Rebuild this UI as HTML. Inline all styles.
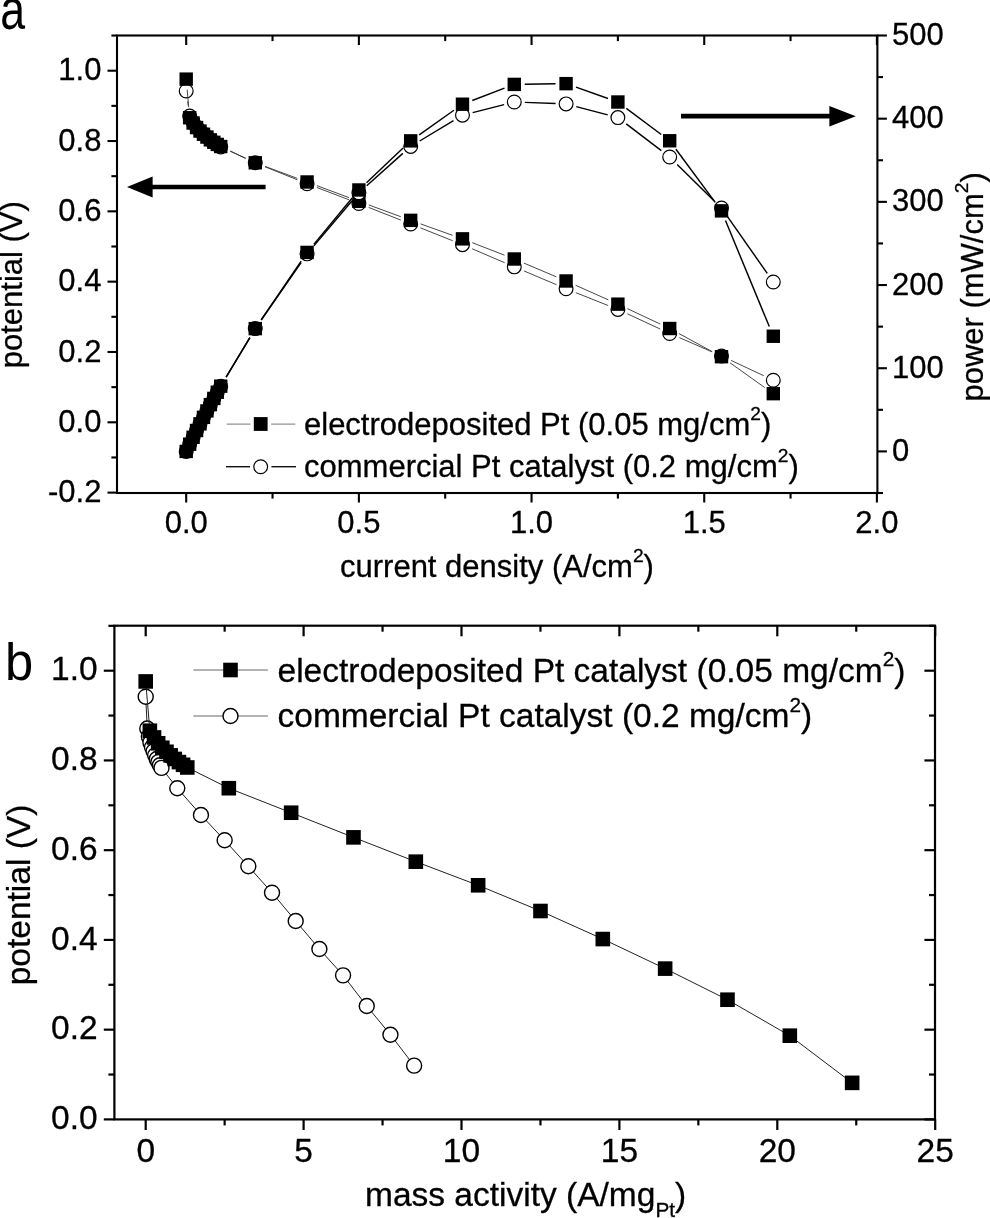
<!DOCTYPE html>
<html lang="en"><head><meta charset="utf-8"><title>Polarization curves</title>
<style>html,body{margin:0;padding:0;background:#fff}svg{display:block}text{white-space:pre}</style></head>
<body><svg width="990" height="1218" viewBox="0 0 990 1218">
<rect width="990" height="1218" fill="#fff"/>
<line x1="187.64" y1="101.46" x2="188.21" y2="105.59" stroke="#333" stroke-width="0.9" stroke-linecap="butt"/>
<line x1="230.27" y1="151.27" x2="245.73" y2="158.39" stroke="#333" stroke-width="0.9" stroke-linecap="butt"/>
<line x1="265.00" y1="166.72" x2="297.34" y2="179.80" stroke="#333" stroke-width="0.9" stroke-linecap="butt"/>
<line x1="316.88" y1="187.49" x2="349.07" y2="199.82" stroke="#333" stroke-width="0.9" stroke-linecap="butt"/>
<line x1="368.64" y1="207.42" x2="400.91" y2="220.12" stroke="#333" stroke-width="0.9" stroke-linecap="butt"/>
<line x1="420.43" y1="227.86" x2="452.73" y2="240.75" stroke="#333" stroke-width="0.9" stroke-linecap="butt"/>
<line x1="472.13" y1="248.78" x2="504.63" y2="262.70" stroke="#333" stroke-width="0.9" stroke-linecap="butt"/>
<line x1="523.95" y1="270.93" x2="556.42" y2="284.68" stroke="#333" stroke-width="0.9" stroke-linecap="butt"/>
<line x1="575.84" y1="292.66" x2="608.13" y2="305.53" stroke="#333" stroke-width="0.9" stroke-linecap="butt"/>
<line x1="627.41" y1="313.83" x2="660.16" y2="329.01" stroke="#333" stroke-width="0.9" stroke-linecap="butt"/>
<line x1="679.32" y1="337.61" x2="711.86" y2="351.75" stroke="#333" stroke-width="0.9" stroke-linecap="butt"/>
<line x1="731.00" y1="360.38" x2="763.79" y2="375.73" stroke="#333" stroke-width="0.9" stroke-linecap="butt"/>
<circle cx="186.20" cy="91.06" r="6.9" fill="#fff" stroke="#000" stroke-width="1.2"/>
<circle cx="189.65" cy="115.99" r="6.9" fill="#fff" stroke="#000" stroke-width="1.2"/>
<circle cx="193.11" cy="122.30" r="6.9" fill="#fff" stroke="#000" stroke-width="1.2"/>
<circle cx="196.56" cy="126.87" r="6.9" fill="#fff" stroke="#000" stroke-width="1.2"/>
<circle cx="200.01" cy="130.73" r="6.9" fill="#fff" stroke="#000" stroke-width="1.2"/>
<circle cx="203.47" cy="133.89" r="6.9" fill="#fff" stroke="#000" stroke-width="1.2"/>
<circle cx="206.92" cy="137.05" r="6.9" fill="#fff" stroke="#000" stroke-width="1.2"/>
<circle cx="210.37" cy="139.86" r="6.9" fill="#fff" stroke="#000" stroke-width="1.2"/>
<circle cx="213.83" cy="142.31" r="6.9" fill="#fff" stroke="#000" stroke-width="1.2"/>
<circle cx="217.28" cy="144.77" r="6.9" fill="#fff" stroke="#000" stroke-width="1.2"/>
<circle cx="220.73" cy="146.88" r="6.9" fill="#fff" stroke="#000" stroke-width="1.2"/>
<circle cx="255.27" cy="162.78" r="6.9" fill="#fff" stroke="#000" stroke-width="1.2"/>
<circle cx="307.07" cy="183.74" r="6.9" fill="#fff" stroke="#000" stroke-width="1.2"/>
<circle cx="358.88" cy="203.57" r="6.9" fill="#fff" stroke="#000" stroke-width="1.2"/>
<circle cx="410.68" cy="223.97" r="6.9" fill="#fff" stroke="#000" stroke-width="1.2"/>
<circle cx="462.48" cy="244.65" r="6.9" fill="#fff" stroke="#000" stroke-width="1.2"/>
<circle cx="514.28" cy="266.83" r="6.9" fill="#fff" stroke="#000" stroke-width="1.2"/>
<circle cx="566.09" cy="288.77" r="6.9" fill="#fff" stroke="#000" stroke-width="1.2"/>
<circle cx="617.89" cy="309.42" r="6.9" fill="#fff" stroke="#000" stroke-width="1.2"/>
<circle cx="669.69" cy="333.43" r="6.9" fill="#fff" stroke="#000" stroke-width="1.2"/>
<circle cx="721.49" cy="355.93" r="6.9" fill="#fff" stroke="#000" stroke-width="1.2"/>
<circle cx="773.30" cy="380.19" r="6.9" fill="#fff" stroke="#000" stroke-width="1.2"/>
<line x1="187.14" y1="89.58" x2="188.72" y2="107.28" stroke="#333" stroke-width="0.9" stroke-linecap="butt"/>
<line x1="230.24" y1="151.00" x2="245.77" y2="158.31" stroke="#333" stroke-width="0.9" stroke-linecap="butt"/>
<line x1="265.12" y1="166.43" x2="297.23" y2="178.33" stroke="#333" stroke-width="0.9" stroke-linecap="butt"/>
<line x1="316.91" y1="185.65" x2="349.04" y2="197.62" stroke="#333" stroke-width="0.9" stroke-linecap="butt"/>
<line x1="368.73" y1="204.92" x2="400.82" y2="216.73" stroke="#333" stroke-width="0.9" stroke-linecap="butt"/>
<line x1="420.57" y1="223.88" x2="452.59" y2="235.32" stroke="#333" stroke-width="0.9" stroke-linecap="butt"/>
<line x1="472.27" y1="242.66" x2="504.50" y2="255.20" stroke="#333" stroke-width="0.9" stroke-linecap="butt"/>
<line x1="523.95" y1="263.10" x2="556.42" y2="276.88" stroke="#333" stroke-width="0.9" stroke-linecap="butt"/>
<line x1="575.67" y1="285.27" x2="608.30" y2="299.86" stroke="#333" stroke-width="0.9" stroke-linecap="butt"/>
<line x1="627.39" y1="308.62" x2="660.19" y2="324.04" stroke="#333" stroke-width="0.9" stroke-linecap="butt"/>
<line x1="678.91" y1="333.53" x2="712.27" y2="351.68" stroke="#333" stroke-width="0.9" stroke-linecap="butt"/>
<line x1="730.04" y1="362.80" x2="764.75" y2="387.57" stroke="#333" stroke-width="0.9" stroke-linecap="butt"/>
<rect x="179.50" y="72.43" width="13.4" height="13.4" fill="#000"/>
<rect x="182.95" y="111.04" width="13.4" height="13.4" fill="#000"/>
<rect x="186.41" y="116.31" width="13.4" height="13.4" fill="#000"/>
<rect x="189.86" y="120.87" width="13.4" height="13.4" fill="#000"/>
<rect x="193.31" y="124.38" width="13.4" height="13.4" fill="#000"/>
<rect x="196.77" y="127.54" width="13.4" height="13.4" fill="#000"/>
<rect x="200.22" y="130.35" width="13.4" height="13.4" fill="#000"/>
<rect x="203.67" y="133.16" width="13.4" height="13.4" fill="#000"/>
<rect x="207.13" y="135.61" width="13.4" height="13.4" fill="#000"/>
<rect x="210.58" y="137.72" width="13.4" height="13.4" fill="#000"/>
<rect x="214.03" y="139.83" width="13.4" height="13.4" fill="#000"/>
<rect x="248.57" y="156.08" width="13.4" height="13.4" fill="#000"/>
<rect x="300.37" y="175.28" width="13.4" height="13.4" fill="#000"/>
<rect x="352.18" y="194.59" width="13.4" height="13.4" fill="#000"/>
<rect x="403.98" y="213.65" width="13.4" height="13.4" fill="#000"/>
<rect x="455.78" y="232.15" width="13.4" height="13.4" fill="#000"/>
<rect x="507.58" y="252.30" width="13.4" height="13.4" fill="#000"/>
<rect x="559.38" y="274.28" width="13.4" height="13.4" fill="#000"/>
<rect x="611.19" y="297.45" width="13.4" height="13.4" fill="#000"/>
<rect x="662.99" y="321.81" width="13.4" height="13.4" fill="#000"/>
<rect x="714.79" y="350.00" width="13.4" height="13.4" fill="#000"/>
<rect x="766.60" y="386.97" width="13.4" height="13.4" fill="#000"/>
<line x1="226.13" y1="377.24" x2="249.87" y2="337.62" stroke="#000" stroke-width="1.45" stroke-linecap="butt"/>
<line x1="261.25" y1="319.98" x2="301.09" y2="262.50" stroke="#000" stroke-width="1.45" stroke-linecap="butt"/>
<line x1="313.86" y1="245.86" x2="352.09" y2="200.69" stroke="#000" stroke-width="1.45" stroke-linecap="butt"/>
<line x1="366.71" y1="185.68" x2="402.85" y2="153.41" stroke="#000" stroke-width="1.45" stroke-linecap="butt"/>
<line x1="419.67" y1="141.00" x2="453.49" y2="120.60" stroke="#000" stroke-width="1.45" stroke-linecap="butt"/>
<line x1="472.66" y1="112.58" x2="504.11" y2="104.58" stroke="#000" stroke-width="1.45" stroke-linecap="butt"/>
<line x1="524.78" y1="102.38" x2="555.59" y2="103.53" stroke="#000" stroke-width="1.45" stroke-linecap="butt"/>
<line x1="576.24" y1="106.60" x2="607.73" y2="114.90" stroke="#000" stroke-width="1.45" stroke-linecap="butt"/>
<line x1="626.24" y1="123.94" x2="661.34" y2="150.69" stroke="#000" stroke-width="1.45" stroke-linecap="butt"/>
<line x1="677.17" y1="164.41" x2="714.01" y2="200.66" stroke="#000" stroke-width="1.45" stroke-linecap="butt"/>
<line x1="727.51" y1="216.63" x2="767.27" y2="273.43" stroke="#000" stroke-width="1.45" stroke-linecap="butt"/>
<circle cx="186.20" cy="451.41" r="6.9" fill="#fff" stroke="#000" stroke-width="1.2"/>
<circle cx="189.65" cy="444.16" r="6.9" fill="#fff" stroke="#000" stroke-width="1.2"/>
<circle cx="193.11" cy="437.21" r="6.9" fill="#fff" stroke="#000" stroke-width="1.2"/>
<circle cx="196.56" cy="430.44" r="6.9" fill="#fff" stroke="#000" stroke-width="1.2"/>
<circle cx="200.01" cy="423.82" r="6.9" fill="#fff" stroke="#000" stroke-width="1.2"/>
<circle cx="203.47" cy="417.29" r="6.9" fill="#fff" stroke="#000" stroke-width="1.2"/>
<circle cx="206.92" cy="410.92" r="6.9" fill="#fff" stroke="#000" stroke-width="1.2"/>
<circle cx="210.37" cy="404.63" r="6.9" fill="#fff" stroke="#000" stroke-width="1.2"/>
<circle cx="213.83" cy="398.42" r="6.9" fill="#fff" stroke="#000" stroke-width="1.2"/>
<circle cx="217.28" cy="392.32" r="6.9" fill="#fff" stroke="#000" stroke-width="1.2"/>
<circle cx="220.73" cy="386.25" r="6.9" fill="#fff" stroke="#000" stroke-width="1.2"/>
<circle cx="255.27" cy="328.61" r="6.9" fill="#fff" stroke="#000" stroke-width="1.2"/>
<circle cx="307.07" cy="253.87" r="6.9" fill="#fff" stroke="#000" stroke-width="1.2"/>
<circle cx="358.88" cy="192.68" r="6.9" fill="#fff" stroke="#000" stroke-width="1.2"/>
<circle cx="410.68" cy="146.42" r="6.9" fill="#fff" stroke="#000" stroke-width="1.2"/>
<circle cx="462.48" cy="115.17" r="6.9" fill="#fff" stroke="#000" stroke-width="1.2"/>
<circle cx="514.28" cy="101.99" r="6.9" fill="#fff" stroke="#000" stroke-width="1.2"/>
<circle cx="566.09" cy="103.92" r="6.9" fill="#fff" stroke="#000" stroke-width="1.2"/>
<circle cx="617.89" cy="117.58" r="6.9" fill="#fff" stroke="#000" stroke-width="1.2"/>
<circle cx="669.69" cy="157.05" r="6.9" fill="#fff" stroke="#000" stroke-width="1.2"/>
<circle cx="721.49" cy="208.03" r="6.9" fill="#fff" stroke="#000" stroke-width="1.2"/>
<circle cx="773.30" cy="282.04" r="6.9" fill="#fff" stroke="#000" stroke-width="1.2"/>
<line x1="226.14" y1="377.16" x2="249.87" y2="337.62" stroke="#000" stroke-width="1.45" stroke-linecap="butt"/>
<line x1="261.17" y1="319.93" x2="301.17" y2="261.10" stroke="#000" stroke-width="1.45" stroke-linecap="butt"/>
<line x1="313.78" y1="244.34" x2="352.17" y2="198.06" stroke="#000" stroke-width="1.45" stroke-linecap="butt"/>
<line x1="366.49" y1="182.75" x2="403.06" y2="148.08" stroke="#000" stroke-width="1.45" stroke-linecap="butt"/>
<line x1="419.25" y1="134.80" x2="453.91" y2="110.27" stroke="#000" stroke-width="1.45" stroke-linecap="butt"/>
<line x1="472.29" y1="100.46" x2="504.48" y2="88.15" stroke="#000" stroke-width="1.45" stroke-linecap="butt"/>
<line x1="524.78" y1="84.24" x2="555.59" y2="83.79" stroke="#000" stroke-width="1.45" stroke-linecap="butt"/>
<line x1="575.98" y1="87.15" x2="607.99" y2="98.50" stroke="#000" stroke-width="1.45" stroke-linecap="butt"/>
<line x1="626.29" y1="108.30" x2="661.28" y2="134.48" stroke="#000" stroke-width="1.45" stroke-linecap="butt"/>
<line x1="675.93" y1="149.22" x2="715.25" y2="202.42" stroke="#000" stroke-width="1.45" stroke-linecap="butt"/>
<line x1="725.50" y1="220.56" x2="769.29" y2="326.55" stroke="#000" stroke-width="1.45" stroke-linecap="butt"/>
<rect x="179.50" y="444.71" width="13.4" height="13.4" fill="#000"/>
<rect x="182.95" y="437.50" width="13.4" height="13.4" fill="#000"/>
<rect x="186.41" y="430.55" width="13.4" height="13.4" fill="#000"/>
<rect x="189.86" y="423.79" width="13.4" height="13.4" fill="#000"/>
<rect x="193.31" y="417.15" width="13.4" height="13.4" fill="#000"/>
<rect x="196.77" y="410.63" width="13.4" height="13.4" fill="#000"/>
<rect x="200.22" y="404.22" width="13.4" height="13.4" fill="#000"/>
<rect x="203.67" y="397.93" width="13.4" height="13.4" fill="#000"/>
<rect x="207.13" y="391.72" width="13.4" height="13.4" fill="#000"/>
<rect x="210.58" y="385.54" width="13.4" height="13.4" fill="#000"/>
<rect x="214.03" y="379.47" width="13.4" height="13.4" fill="#000"/>
<rect x="248.57" y="321.91" width="13.4" height="13.4" fill="#000"/>
<rect x="300.37" y="245.72" width="13.4" height="13.4" fill="#000"/>
<rect x="352.18" y="183.28" width="13.4" height="13.4" fill="#000"/>
<rect x="403.98" y="134.16" width="13.4" height="13.4" fill="#000"/>
<rect x="455.78" y="97.51" width="13.4" height="13.4" fill="#000"/>
<rect x="507.58" y="77.70" width="13.4" height="13.4" fill="#000"/>
<rect x="559.38" y="76.94" width="13.4" height="13.4" fill="#000"/>
<rect x="611.19" y="95.31" width="13.4" height="13.4" fill="#000"/>
<rect x="662.99" y="134.07" width="13.4" height="13.4" fill="#000"/>
<rect x="714.79" y="204.16" width="13.4" height="13.4" fill="#000"/>
<rect x="766.60" y="329.55" width="13.4" height="13.4" fill="#000"/>
<rect x="117.0" y="35.5" width="760.4" height="457.5" fill="none" stroke="#000" stroke-width="2.1"/>
<line x1="107.50" y1="492.62" x2="117.00" y2="492.62" stroke="#000" stroke-width="2.1" stroke-linecap="butt"/>
<text x="101.40" y="502.22" font-size="31" text-anchor="end" font-family="Liberation Sans, Arial, Helvetica, sans-serif" fill="#000" stroke="#000" stroke-width="0.3" >-0.2</text>
<line x1="111.40" y1="457.46" x2="117.00" y2="457.46" stroke="#000" stroke-width="2.1" stroke-linecap="butt"/>
<line x1="107.50" y1="422.30" x2="117.00" y2="422.30" stroke="#000" stroke-width="2.1" stroke-linecap="butt"/>
<text x="101.40" y="431.90" font-size="31" text-anchor="end" font-family="Liberation Sans, Arial, Helvetica, sans-serif" fill="#000" stroke="#000" stroke-width="0.3" >0.0</text>
<line x1="111.40" y1="387.14" x2="117.00" y2="387.14" stroke="#000" stroke-width="2.1" stroke-linecap="butt"/>
<line x1="107.50" y1="351.98" x2="117.00" y2="351.98" stroke="#000" stroke-width="2.1" stroke-linecap="butt"/>
<text x="101.40" y="361.58" font-size="31" text-anchor="end" font-family="Liberation Sans, Arial, Helvetica, sans-serif" fill="#000" stroke="#000" stroke-width="0.3" >0.2</text>
<line x1="111.40" y1="316.82" x2="117.00" y2="316.82" stroke="#000" stroke-width="2.1" stroke-linecap="butt"/>
<line x1="107.50" y1="281.66" x2="117.00" y2="281.66" stroke="#000" stroke-width="2.1" stroke-linecap="butt"/>
<text x="101.40" y="291.26" font-size="31" text-anchor="end" font-family="Liberation Sans, Arial, Helvetica, sans-serif" fill="#000" stroke="#000" stroke-width="0.3" >0.4</text>
<line x1="111.40" y1="246.50" x2="117.00" y2="246.50" stroke="#000" stroke-width="2.1" stroke-linecap="butt"/>
<line x1="107.50" y1="211.34" x2="117.00" y2="211.34" stroke="#000" stroke-width="2.1" stroke-linecap="butt"/>
<text x="101.40" y="220.94" font-size="31" text-anchor="end" font-family="Liberation Sans, Arial, Helvetica, sans-serif" fill="#000" stroke="#000" stroke-width="0.3" >0.6</text>
<line x1="111.40" y1="176.18" x2="117.00" y2="176.18" stroke="#000" stroke-width="2.1" stroke-linecap="butt"/>
<line x1="107.50" y1="141.02" x2="117.00" y2="141.02" stroke="#000" stroke-width="2.1" stroke-linecap="butt"/>
<text x="101.40" y="150.62" font-size="31" text-anchor="end" font-family="Liberation Sans, Arial, Helvetica, sans-serif" fill="#000" stroke="#000" stroke-width="0.3" >0.8</text>
<line x1="111.40" y1="105.86" x2="117.00" y2="105.86" stroke="#000" stroke-width="2.1" stroke-linecap="butt"/>
<line x1="107.50" y1="70.70" x2="117.00" y2="70.70" stroke="#000" stroke-width="2.1" stroke-linecap="butt"/>
<text x="101.40" y="80.30" font-size="31" text-anchor="end" font-family="Liberation Sans, Arial, Helvetica, sans-serif" fill="#000" stroke="#000" stroke-width="0.3" >1.0</text>
<line x1="111.40" y1="35.54" x2="117.00" y2="35.54" stroke="#000" stroke-width="2.1" stroke-linecap="butt"/>
<line x1="877.40" y1="493.00" x2="883.00" y2="493.00" stroke="#000" stroke-width="2.1" stroke-linecap="butt"/>
<line x1="877.40" y1="451.41" x2="886.90" y2="451.41" stroke="#000" stroke-width="2.1" stroke-linecap="butt"/>
<text x="892.00" y="461.01" font-size="31" text-anchor="start" font-family="Liberation Sans, Arial, Helvetica, sans-serif" fill="#000" stroke="#000" stroke-width="0.3" >0</text>
<line x1="877.40" y1="409.82" x2="883.00" y2="409.82" stroke="#000" stroke-width="2.1" stroke-linecap="butt"/>
<line x1="877.40" y1="368.23" x2="886.90" y2="368.23" stroke="#000" stroke-width="2.1" stroke-linecap="butt"/>
<text x="892.00" y="377.83" font-size="31" text-anchor="start" font-family="Liberation Sans, Arial, Helvetica, sans-serif" fill="#000" stroke="#000" stroke-width="0.3" >100</text>
<line x1="877.40" y1="326.64" x2="883.00" y2="326.64" stroke="#000" stroke-width="2.1" stroke-linecap="butt"/>
<line x1="877.40" y1="285.05" x2="886.90" y2="285.05" stroke="#000" stroke-width="2.1" stroke-linecap="butt"/>
<text x="892.00" y="294.65" font-size="31" text-anchor="start" font-family="Liberation Sans, Arial, Helvetica, sans-serif" fill="#000" stroke="#000" stroke-width="0.3" >200</text>
<line x1="877.40" y1="243.45" x2="883.00" y2="243.45" stroke="#000" stroke-width="2.1" stroke-linecap="butt"/>
<line x1="877.40" y1="201.86" x2="886.90" y2="201.86" stroke="#000" stroke-width="2.1" stroke-linecap="butt"/>
<text x="892.00" y="211.46" font-size="31" text-anchor="start" font-family="Liberation Sans, Arial, Helvetica, sans-serif" fill="#000" stroke="#000" stroke-width="0.3" >300</text>
<line x1="877.40" y1="160.27" x2="883.00" y2="160.27" stroke="#000" stroke-width="2.1" stroke-linecap="butt"/>
<line x1="877.40" y1="118.68" x2="886.90" y2="118.68" stroke="#000" stroke-width="2.1" stroke-linecap="butt"/>
<text x="892.00" y="128.28" font-size="31" text-anchor="start" font-family="Liberation Sans, Arial, Helvetica, sans-serif" fill="#000" stroke="#000" stroke-width="0.3" >400</text>
<line x1="877.40" y1="77.09" x2="883.00" y2="77.09" stroke="#000" stroke-width="2.1" stroke-linecap="butt"/>
<line x1="877.40" y1="35.50" x2="886.90" y2="35.50" stroke="#000" stroke-width="2.1" stroke-linecap="butt"/>
<text x="892.00" y="45.10" font-size="31" text-anchor="start" font-family="Liberation Sans, Arial, Helvetica, sans-serif" fill="#000" stroke="#000" stroke-width="0.3" >500</text>
<line x1="186.20" y1="493.00" x2="186.20" y2="502.50" stroke="#000" stroke-width="2.1" stroke-linecap="butt"/>
<line x1="186.20" y1="35.50" x2="186.20" y2="45.00" stroke="#000" stroke-width="2.1" stroke-linecap="butt"/>
<text x="186.20" y="532.60" font-size="31" text-anchor="middle" font-family="Liberation Sans, Arial, Helvetica, sans-serif" fill="#000" stroke="#000" stroke-width="0.3" >0.0</text>
<line x1="272.54" y1="493.00" x2="272.54" y2="498.60" stroke="#000" stroke-width="2.1" stroke-linecap="butt"/>
<line x1="272.54" y1="35.50" x2="272.54" y2="41.10" stroke="#000" stroke-width="2.1" stroke-linecap="butt"/>
<line x1="358.88" y1="493.00" x2="358.88" y2="502.50" stroke="#000" stroke-width="2.1" stroke-linecap="butt"/>
<line x1="358.88" y1="35.50" x2="358.88" y2="45.00" stroke="#000" stroke-width="2.1" stroke-linecap="butt"/>
<text x="358.88" y="532.60" font-size="31" text-anchor="middle" font-family="Liberation Sans, Arial, Helvetica, sans-serif" fill="#000" stroke="#000" stroke-width="0.3" >0.5</text>
<line x1="445.21" y1="493.00" x2="445.21" y2="498.60" stroke="#000" stroke-width="2.1" stroke-linecap="butt"/>
<line x1="445.21" y1="35.50" x2="445.21" y2="41.10" stroke="#000" stroke-width="2.1" stroke-linecap="butt"/>
<line x1="531.55" y1="493.00" x2="531.55" y2="502.50" stroke="#000" stroke-width="2.1" stroke-linecap="butt"/>
<line x1="531.55" y1="35.50" x2="531.55" y2="45.00" stroke="#000" stroke-width="2.1" stroke-linecap="butt"/>
<text x="531.55" y="532.60" font-size="31" text-anchor="middle" font-family="Liberation Sans, Arial, Helvetica, sans-serif" fill="#000" stroke="#000" stroke-width="0.3" >1.0</text>
<line x1="617.89" y1="493.00" x2="617.89" y2="498.60" stroke="#000" stroke-width="2.1" stroke-linecap="butt"/>
<line x1="617.89" y1="35.50" x2="617.89" y2="41.10" stroke="#000" stroke-width="2.1" stroke-linecap="butt"/>
<line x1="704.23" y1="493.00" x2="704.23" y2="502.50" stroke="#000" stroke-width="2.1" stroke-linecap="butt"/>
<line x1="704.23" y1="35.50" x2="704.23" y2="45.00" stroke="#000" stroke-width="2.1" stroke-linecap="butt"/>
<text x="704.23" y="532.60" font-size="31" text-anchor="middle" font-family="Liberation Sans, Arial, Helvetica, sans-serif" fill="#000" stroke="#000" stroke-width="0.3" >1.5</text>
<line x1="790.56" y1="493.00" x2="790.56" y2="498.60" stroke="#000" stroke-width="2.1" stroke-linecap="butt"/>
<line x1="790.56" y1="35.50" x2="790.56" y2="41.10" stroke="#000" stroke-width="2.1" stroke-linecap="butt"/>
<line x1="876.90" y1="493.00" x2="876.90" y2="502.50" stroke="#000" stroke-width="2.1" stroke-linecap="butt"/>
<line x1="876.90" y1="35.50" x2="876.90" y2="45.00" stroke="#000" stroke-width="2.1" stroke-linecap="butt"/>
<text x="876.90" y="532.60" font-size="31" text-anchor="middle" font-family="Liberation Sans, Arial, Helvetica, sans-serif" fill="#000" stroke="#000" stroke-width="0.3" >2.0</text>
<text x="340.00" y="577.40" font-size="31" text-anchor="start" font-family="Liberation Sans, Arial, Helvetica, sans-serif" fill="#000" stroke="#000" stroke-width="0.3" >current density (A/cm<tspan font-size="19.22" dy="-15.035">2</tspan><tspan dy="15.035">)</tspan></text>
<g transform="translate(22.4,368.3) rotate(-90)">
<text x="0.00" y="0.00" font-size="31" text-anchor="start" font-family="Liberation Sans, Arial, Helvetica, sans-serif" fill="#000" stroke="#000" stroke-width="0.3" >potential (V)</text>
</g>
<g transform="translate(983.2,401.6) rotate(-90)">
<text x="0.00" y="0.00" font-size="31" text-anchor="start" font-family="Liberation Sans, Arial, Helvetica, sans-serif" fill="#000" stroke="#000" stroke-width="0.3" >power (mW/cm<tspan font-size="19.22" dy="-15.035">2</tspan><tspan dy="15.035">)</tspan></text>
</g>
<line x1="226.70" y1="424.10" x2="250.50" y2="424.10" stroke="#777" stroke-width="1.0" stroke-linecap="butt"/>
<line x1="271.20" y1="424.10" x2="295.30" y2="424.10" stroke="#777" stroke-width="1.0" stroke-linecap="butt"/>
<rect x="253.80" y="417.10" width="13.8" height="13.8" fill="#000"/>
<line x1="226.00" y1="466.70" x2="250.00" y2="466.70" stroke="#111" stroke-width="1.4" stroke-linecap="butt"/>
<line x1="271.40" y1="466.70" x2="296.00" y2="466.70" stroke="#111" stroke-width="1.4" stroke-linecap="butt"/>
<circle cx="260.70" cy="466.70" r="6.9" fill="#fff" stroke="#000" stroke-width="1.2"/>
<text x="304.00" y="435.20" font-size="31" text-anchor="start" font-family="Liberation Sans, Arial, Helvetica, sans-serif" fill="#000" stroke="#000" stroke-width="0.3" >electrodeposited Pt (0.05 mg/cm<tspan font-size="19.22" dy="-15.035">2</tspan><tspan dy="15.035">)</tspan></text>
<text x="304.00" y="477.00" font-size="31" text-anchor="start" font-family="Liberation Sans, Arial, Helvetica, sans-serif" fill="#000" stroke="#000" stroke-width="0.3" >commercial Pt catalyst (0.2 mg/cm<tspan font-size="19.22" dy="-15.035">2</tspan><tspan dy="15.035">)</tspan></text>
<line x1="152.00" y1="187.00" x2="265.60" y2="187.00" stroke="#000" stroke-width="4.7" stroke-linecap="butt"/>
<polygon points="127,187.0 152.6,176.6 152.6,197.4" fill="#000"/>
<line x1="681.00" y1="116.20" x2="831.00" y2="116.20" stroke="#000" stroke-width="4.7" stroke-linecap="butt"/>
<polygon points="855.8,116.2 829.4,105.9 829.4,126.5" fill="#000"/>
<text transform="translate(0.2,28.6) scale(0.82,1.07)" font-size="54.5" font-family="Liberation Sans, Arial, Helvetica, sans-serif" fill="#000">a</text>
<line x1="145.70" y1="696.68" x2="147.28" y2="728.49" stroke="#222" stroke-width="1.0" stroke-linecap="butt"/>
<line x1="147.28" y1="728.49" x2="148.86" y2="736.56" stroke="#222" stroke-width="1.0" stroke-linecap="butt"/>
<line x1="148.86" y1="736.56" x2="150.44" y2="742.38" stroke="#222" stroke-width="1.0" stroke-linecap="butt"/>
<line x1="150.44" y1="742.38" x2="152.02" y2="747.31" stroke="#222" stroke-width="1.0" stroke-linecap="butt"/>
<line x1="152.02" y1="747.31" x2="153.59" y2="751.34" stroke="#222" stroke-width="1.0" stroke-linecap="butt"/>
<line x1="153.59" y1="751.34" x2="155.17" y2="755.37" stroke="#222" stroke-width="1.0" stroke-linecap="butt"/>
<line x1="155.17" y1="755.37" x2="156.75" y2="758.96" stroke="#222" stroke-width="1.0" stroke-linecap="butt"/>
<line x1="156.75" y1="758.96" x2="158.33" y2="762.09" stroke="#222" stroke-width="1.0" stroke-linecap="butt"/>
<line x1="158.33" y1="762.09" x2="159.91" y2="765.23" stroke="#222" stroke-width="1.0" stroke-linecap="butt"/>
<line x1="159.91" y1="765.23" x2="161.49" y2="767.92" stroke="#222" stroke-width="1.0" stroke-linecap="butt"/>
<line x1="161.49" y1="767.92" x2="177.28" y2="788.21" stroke="#222" stroke-width="1.0" stroke-linecap="butt"/>
<line x1="177.28" y1="788.21" x2="200.96" y2="814.96" stroke="#222" stroke-width="1.0" stroke-linecap="butt"/>
<line x1="200.96" y1="814.96" x2="224.65" y2="840.27" stroke="#222" stroke-width="1.0" stroke-linecap="butt"/>
<line x1="224.65" y1="840.27" x2="248.33" y2="866.30" stroke="#222" stroke-width="1.0" stroke-linecap="butt"/>
<line x1="248.33" y1="866.30" x2="272.02" y2="892.68" stroke="#222" stroke-width="1.0" stroke-linecap="butt"/>
<line x1="272.02" y1="892.68" x2="295.70" y2="921.00" stroke="#222" stroke-width="1.0" stroke-linecap="butt"/>
<line x1="295.70" y1="921.00" x2="319.39" y2="949.00" stroke="#222" stroke-width="1.0" stroke-linecap="butt"/>
<line x1="319.39" y1="949.00" x2="343.07" y2="975.34" stroke="#222" stroke-width="1.0" stroke-linecap="butt"/>
<line x1="343.07" y1="975.34" x2="366.76" y2="1005.98" stroke="#222" stroke-width="1.0" stroke-linecap="butt"/>
<line x1="366.76" y1="1005.98" x2="390.44" y2="1034.70" stroke="#222" stroke-width="1.0" stroke-linecap="butt"/>
<line x1="390.44" y1="1034.70" x2="414.13" y2="1065.66" stroke="#222" stroke-width="1.0" stroke-linecap="butt"/>
<circle cx="145.70" cy="696.68" r="7.5" fill="#fff" stroke="#000" stroke-width="1.4"/>
<circle cx="147.28" cy="728.49" r="7.5" fill="#fff" stroke="#000" stroke-width="1.4"/>
<circle cx="148.86" cy="736.56" r="7.5" fill="#fff" stroke="#000" stroke-width="1.4"/>
<circle cx="150.44" cy="742.38" r="7.5" fill="#fff" stroke="#000" stroke-width="1.4"/>
<circle cx="152.02" cy="747.31" r="7.5" fill="#fff" stroke="#000" stroke-width="1.4"/>
<circle cx="153.59" cy="751.34" r="7.5" fill="#fff" stroke="#000" stroke-width="1.4"/>
<circle cx="155.17" cy="755.37" r="7.5" fill="#fff" stroke="#000" stroke-width="1.4"/>
<circle cx="156.75" cy="758.96" r="7.5" fill="#fff" stroke="#000" stroke-width="1.4"/>
<circle cx="158.33" cy="762.09" r="7.5" fill="#fff" stroke="#000" stroke-width="1.4"/>
<circle cx="159.91" cy="765.23" r="7.5" fill="#fff" stroke="#000" stroke-width="1.4"/>
<circle cx="161.49" cy="767.92" r="7.5" fill="#fff" stroke="#000" stroke-width="1.4"/>
<circle cx="177.28" cy="788.21" r="7.5" fill="#fff" stroke="#000" stroke-width="1.4"/>
<circle cx="200.96" cy="814.96" r="7.5" fill="#fff" stroke="#000" stroke-width="1.4"/>
<circle cx="224.65" cy="840.27" r="7.5" fill="#fff" stroke="#000" stroke-width="1.4"/>
<circle cx="248.33" cy="866.30" r="7.5" fill="#fff" stroke="#000" stroke-width="1.4"/>
<circle cx="272.02" cy="892.68" r="7.5" fill="#fff" stroke="#000" stroke-width="1.4"/>
<circle cx="295.70" cy="921.00" r="7.5" fill="#fff" stroke="#000" stroke-width="1.4"/>
<circle cx="319.39" cy="949.00" r="7.5" fill="#fff" stroke="#000" stroke-width="1.4"/>
<circle cx="343.07" cy="975.34" r="7.5" fill="#fff" stroke="#000" stroke-width="1.4"/>
<circle cx="366.76" cy="1005.98" r="7.5" fill="#fff" stroke="#000" stroke-width="1.4"/>
<circle cx="390.44" cy="1034.70" r="7.5" fill="#fff" stroke="#000" stroke-width="1.4"/>
<circle cx="414.13" cy="1065.66" r="7.5" fill="#fff" stroke="#000" stroke-width="1.4"/>
<line x1="145.70" y1="681.45" x2="149.86" y2="730.73" stroke="#222" stroke-width="1.0" stroke-linecap="butt"/>
<line x1="149.86" y1="730.73" x2="154.01" y2="737.45" stroke="#222" stroke-width="1.0" stroke-linecap="butt"/>
<line x1="154.01" y1="737.45" x2="158.17" y2="743.28" stroke="#222" stroke-width="1.0" stroke-linecap="butt"/>
<line x1="158.17" y1="743.28" x2="162.32" y2="747.76" stroke="#222" stroke-width="1.0" stroke-linecap="butt"/>
<line x1="162.32" y1="747.76" x2="166.48" y2="751.79" stroke="#222" stroke-width="1.0" stroke-linecap="butt"/>
<line x1="166.48" y1="751.79" x2="170.63" y2="755.37" stroke="#222" stroke-width="1.0" stroke-linecap="butt"/>
<line x1="170.63" y1="755.37" x2="174.79" y2="758.96" stroke="#222" stroke-width="1.0" stroke-linecap="butt"/>
<line x1="174.79" y1="758.96" x2="178.94" y2="762.09" stroke="#222" stroke-width="1.0" stroke-linecap="butt"/>
<line x1="178.94" y1="762.09" x2="183.10" y2="764.78" stroke="#222" stroke-width="1.0" stroke-linecap="butt"/>
<line x1="183.10" y1="764.78" x2="187.26" y2="767.47" stroke="#222" stroke-width="1.0" stroke-linecap="butt"/>
<line x1="187.26" y1="767.47" x2="228.81" y2="788.21" stroke="#222" stroke-width="1.0" stroke-linecap="butt"/>
<line x1="228.81" y1="788.21" x2="291.14" y2="812.72" stroke="#222" stroke-width="1.0" stroke-linecap="butt"/>
<line x1="291.14" y1="812.72" x2="353.48" y2="837.36" stroke="#222" stroke-width="1.0" stroke-linecap="butt"/>
<line x1="353.48" y1="837.36" x2="415.81" y2="861.68" stroke="#222" stroke-width="1.0" stroke-linecap="butt"/>
<line x1="415.81" y1="861.68" x2="478.14" y2="885.29" stroke="#222" stroke-width="1.0" stroke-linecap="butt"/>
<line x1="478.14" y1="885.29" x2="540.48" y2="911.01" stroke="#222" stroke-width="1.0" stroke-linecap="butt"/>
<line x1="540.48" y1="911.01" x2="602.81" y2="939.05" stroke="#222" stroke-width="1.0" stroke-linecap="butt"/>
<line x1="602.81" y1="939.05" x2="665.14" y2="968.62" stroke="#222" stroke-width="1.0" stroke-linecap="butt"/>
<line x1="665.14" y1="968.62" x2="727.48" y2="999.71" stroke="#222" stroke-width="1.0" stroke-linecap="butt"/>
<line x1="727.48" y1="999.71" x2="789.81" y2="1035.69" stroke="#222" stroke-width="1.0" stroke-linecap="butt"/>
<line x1="789.81" y1="1035.69" x2="852.14" y2="1082.86" stroke="#222" stroke-width="1.0" stroke-linecap="butt"/>
<rect x="138.40" y="674.15" width="14.6" height="14.6" fill="#000"/>
<rect x="142.56" y="723.43" width="14.6" height="14.6" fill="#000"/>
<rect x="146.71" y="730.15" width="14.6" height="14.6" fill="#000"/>
<rect x="150.87" y="735.98" width="14.6" height="14.6" fill="#000"/>
<rect x="155.02" y="740.46" width="14.6" height="14.6" fill="#000"/>
<rect x="159.18" y="744.49" width="14.6" height="14.6" fill="#000"/>
<rect x="163.33" y="748.07" width="14.6" height="14.6" fill="#000"/>
<rect x="167.49" y="751.66" width="14.6" height="14.6" fill="#000"/>
<rect x="171.64" y="754.79" width="14.6" height="14.6" fill="#000"/>
<rect x="175.80" y="757.48" width="14.6" height="14.6" fill="#000"/>
<rect x="179.96" y="760.17" width="14.6" height="14.6" fill="#000"/>
<rect x="221.51" y="780.91" width="14.6" height="14.6" fill="#000"/>
<rect x="283.84" y="805.42" width="14.6" height="14.6" fill="#000"/>
<rect x="346.18" y="830.06" width="14.6" height="14.6" fill="#000"/>
<rect x="408.51" y="854.38" width="14.6" height="14.6" fill="#000"/>
<rect x="470.84" y="877.99" width="14.6" height="14.6" fill="#000"/>
<rect x="533.18" y="903.71" width="14.6" height="14.6" fill="#000"/>
<rect x="595.51" y="931.75" width="14.6" height="14.6" fill="#000"/>
<rect x="657.84" y="961.32" width="14.6" height="14.6" fill="#000"/>
<rect x="720.18" y="992.41" width="14.6" height="14.6" fill="#000"/>
<rect x="782.51" y="1028.39" width="14.6" height="14.6" fill="#000"/>
<rect x="844.84" y="1075.56" width="14.6" height="14.6" fill="#000"/>
<rect x="114.4" y="625.7" width="820.6" height="493.70000000000005" fill="none" stroke="#000" stroke-width="2.2"/>
<line x1="103.80" y1="1119.40" x2="114.40" y2="1119.40" stroke="#000" stroke-width="2.2" stroke-linecap="butt"/>
<line x1="924.40" y1="1119.40" x2="935.00" y2="1119.40" stroke="#000" stroke-width="2.2" stroke-linecap="butt"/>
<text x="97.60" y="1129.00" font-size="33.5" text-anchor="end" font-family="Liberation Sans, Arial, Helvetica, sans-serif" fill="#000" stroke="#000" stroke-width="0.3" >0.0</text>
<line x1="108.40" y1="1074.53" x2="114.40" y2="1074.53" stroke="#000" stroke-width="2.2" stroke-linecap="butt"/>
<line x1="929.00" y1="1074.53" x2="935.00" y2="1074.53" stroke="#000" stroke-width="2.2" stroke-linecap="butt"/>
<line x1="103.80" y1="1029.66" x2="114.40" y2="1029.66" stroke="#000" stroke-width="2.2" stroke-linecap="butt"/>
<line x1="924.40" y1="1029.66" x2="935.00" y2="1029.66" stroke="#000" stroke-width="2.2" stroke-linecap="butt"/>
<text x="97.60" y="1039.26" font-size="33.5" text-anchor="end" font-family="Liberation Sans, Arial, Helvetica, sans-serif" fill="#000" stroke="#000" stroke-width="0.3" >0.2</text>
<line x1="108.40" y1="984.79" x2="114.40" y2="984.79" stroke="#000" stroke-width="2.2" stroke-linecap="butt"/>
<line x1="929.00" y1="984.79" x2="935.00" y2="984.79" stroke="#000" stroke-width="2.2" stroke-linecap="butt"/>
<line x1="103.80" y1="939.92" x2="114.40" y2="939.92" stroke="#000" stroke-width="2.2" stroke-linecap="butt"/>
<line x1="924.40" y1="939.92" x2="935.00" y2="939.92" stroke="#000" stroke-width="2.2" stroke-linecap="butt"/>
<text x="97.60" y="949.52" font-size="33.5" text-anchor="end" font-family="Liberation Sans, Arial, Helvetica, sans-serif" fill="#000" stroke="#000" stroke-width="0.3" >0.4</text>
<line x1="108.40" y1="895.05" x2="114.40" y2="895.05" stroke="#000" stroke-width="2.2" stroke-linecap="butt"/>
<line x1="929.00" y1="895.05" x2="935.00" y2="895.05" stroke="#000" stroke-width="2.2" stroke-linecap="butt"/>
<line x1="103.80" y1="850.18" x2="114.40" y2="850.18" stroke="#000" stroke-width="2.2" stroke-linecap="butt"/>
<line x1="924.40" y1="850.18" x2="935.00" y2="850.18" stroke="#000" stroke-width="2.2" stroke-linecap="butt"/>
<text x="97.60" y="859.78" font-size="33.5" text-anchor="end" font-family="Liberation Sans, Arial, Helvetica, sans-serif" fill="#000" stroke="#000" stroke-width="0.3" >0.6</text>
<line x1="108.40" y1="805.31" x2="114.40" y2="805.31" stroke="#000" stroke-width="2.2" stroke-linecap="butt"/>
<line x1="929.00" y1="805.31" x2="935.00" y2="805.31" stroke="#000" stroke-width="2.2" stroke-linecap="butt"/>
<line x1="103.80" y1="760.44" x2="114.40" y2="760.44" stroke="#000" stroke-width="2.2" stroke-linecap="butt"/>
<line x1="924.40" y1="760.44" x2="935.00" y2="760.44" stroke="#000" stroke-width="2.2" stroke-linecap="butt"/>
<text x="97.60" y="770.04" font-size="33.5" text-anchor="end" font-family="Liberation Sans, Arial, Helvetica, sans-serif" fill="#000" stroke="#000" stroke-width="0.3" >0.8</text>
<line x1="108.40" y1="715.57" x2="114.40" y2="715.57" stroke="#000" stroke-width="2.2" stroke-linecap="butt"/>
<line x1="929.00" y1="715.57" x2="935.00" y2="715.57" stroke="#000" stroke-width="2.2" stroke-linecap="butt"/>
<line x1="103.80" y1="670.70" x2="114.40" y2="670.70" stroke="#000" stroke-width="2.2" stroke-linecap="butt"/>
<line x1="924.40" y1="670.70" x2="935.00" y2="670.70" stroke="#000" stroke-width="2.2" stroke-linecap="butt"/>
<text x="97.60" y="680.30" font-size="33.5" text-anchor="end" font-family="Liberation Sans, Arial, Helvetica, sans-serif" fill="#000" stroke="#000" stroke-width="0.3" >1.0</text>
<line x1="108.40" y1="625.83" x2="114.40" y2="625.83" stroke="#000" stroke-width="2.2" stroke-linecap="butt"/>
<line x1="929.00" y1="625.83" x2="935.00" y2="625.83" stroke="#000" stroke-width="2.2" stroke-linecap="butt"/>
<line x1="145.70" y1="1119.40" x2="145.70" y2="1130.00" stroke="#000" stroke-width="2.2" stroke-linecap="butt"/>
<line x1="145.70" y1="625.70" x2="145.70" y2="636.30" stroke="#000" stroke-width="2.2" stroke-linecap="butt"/>
<text x="145.70" y="1162.00" font-size="33.5" text-anchor="middle" font-family="Liberation Sans, Arial, Helvetica, sans-serif" fill="#000" stroke="#000" stroke-width="0.3" >0</text>
<line x1="224.65" y1="1119.40" x2="224.65" y2="1125.40" stroke="#000" stroke-width="2.2" stroke-linecap="butt"/>
<line x1="224.65" y1="625.70" x2="224.65" y2="631.70" stroke="#000" stroke-width="2.2" stroke-linecap="butt"/>
<line x1="303.60" y1="1119.40" x2="303.60" y2="1130.00" stroke="#000" stroke-width="2.2" stroke-linecap="butt"/>
<line x1="303.60" y1="625.70" x2="303.60" y2="636.30" stroke="#000" stroke-width="2.2" stroke-linecap="butt"/>
<text x="303.60" y="1162.00" font-size="33.5" text-anchor="middle" font-family="Liberation Sans, Arial, Helvetica, sans-serif" fill="#000" stroke="#000" stroke-width="0.3" >5</text>
<line x1="382.55" y1="1119.40" x2="382.55" y2="1125.40" stroke="#000" stroke-width="2.2" stroke-linecap="butt"/>
<line x1="382.55" y1="625.70" x2="382.55" y2="631.70" stroke="#000" stroke-width="2.2" stroke-linecap="butt"/>
<line x1="461.50" y1="1119.40" x2="461.50" y2="1130.00" stroke="#000" stroke-width="2.2" stroke-linecap="butt"/>
<line x1="461.50" y1="625.70" x2="461.50" y2="636.30" stroke="#000" stroke-width="2.2" stroke-linecap="butt"/>
<text x="461.50" y="1162.00" font-size="33.5" text-anchor="middle" font-family="Liberation Sans, Arial, Helvetica, sans-serif" fill="#000" stroke="#000" stroke-width="0.3" >10</text>
<line x1="540.45" y1="1119.40" x2="540.45" y2="1125.40" stroke="#000" stroke-width="2.2" stroke-linecap="butt"/>
<line x1="540.45" y1="625.70" x2="540.45" y2="631.70" stroke="#000" stroke-width="2.2" stroke-linecap="butt"/>
<line x1="619.40" y1="1119.40" x2="619.40" y2="1130.00" stroke="#000" stroke-width="2.2" stroke-linecap="butt"/>
<line x1="619.40" y1="625.70" x2="619.40" y2="636.30" stroke="#000" stroke-width="2.2" stroke-linecap="butt"/>
<text x="619.40" y="1162.00" font-size="33.5" text-anchor="middle" font-family="Liberation Sans, Arial, Helvetica, sans-serif" fill="#000" stroke="#000" stroke-width="0.3" >15</text>
<line x1="698.35" y1="1119.40" x2="698.35" y2="1125.40" stroke="#000" stroke-width="2.2" stroke-linecap="butt"/>
<line x1="698.35" y1="625.70" x2="698.35" y2="631.70" stroke="#000" stroke-width="2.2" stroke-linecap="butt"/>
<line x1="777.30" y1="1119.40" x2="777.30" y2="1130.00" stroke="#000" stroke-width="2.2" stroke-linecap="butt"/>
<line x1="777.30" y1="625.70" x2="777.30" y2="636.30" stroke="#000" stroke-width="2.2" stroke-linecap="butt"/>
<text x="777.30" y="1162.00" font-size="33.5" text-anchor="middle" font-family="Liberation Sans, Arial, Helvetica, sans-serif" fill="#000" stroke="#000" stroke-width="0.3" >20</text>
<line x1="856.25" y1="1119.40" x2="856.25" y2="1125.40" stroke="#000" stroke-width="2.2" stroke-linecap="butt"/>
<line x1="856.25" y1="625.70" x2="856.25" y2="631.70" stroke="#000" stroke-width="2.2" stroke-linecap="butt"/>
<line x1="935.20" y1="1119.40" x2="935.20" y2="1130.00" stroke="#000" stroke-width="2.2" stroke-linecap="butt"/>
<line x1="935.20" y1="625.70" x2="935.20" y2="636.30" stroke="#000" stroke-width="2.2" stroke-linecap="butt"/>
<text x="935.20" y="1162.00" font-size="33.5" text-anchor="middle" font-family="Liberation Sans, Arial, Helvetica, sans-serif" fill="#000" stroke="#000" stroke-width="0.3" >25</text>
<text x="365.00" y="1205.70" font-size="33.5" text-anchor="start" font-family="Liberation Sans, Arial, Helvetica, sans-serif" fill="#000" stroke="#000" stroke-width="0.3" >mass activity (A/mg<tspan font-size="20.77" dy="11">Pt</tspan><tspan dy="-11">)</tspan></text>
<g transform="translate(29.5,985.3) rotate(-90)">
<text x="0.00" y="0.00" font-size="33.5" text-anchor="start" font-family="Liberation Sans, Arial, Helvetica, sans-serif" fill="#000" stroke="#000" stroke-width="0.3" >potential (V)</text>
</g>
<line x1="193.30" y1="670.00" x2="267.80" y2="670.00" stroke="#666" stroke-width="1.0" stroke-linecap="butt"/>
<rect x="223.20" y="662.70" width="14.6" height="14.6" fill="#000"/>
<line x1="193.30" y1="716.00" x2="267.80" y2="716.00" stroke="#666" stroke-width="1.0" stroke-linecap="butt"/>
<circle cx="230.50" cy="716.00" r="7.5" fill="#fff" stroke="#000" stroke-width="1.4"/>
<text x="277.50" y="681.60" font-size="33.5" text-anchor="start" font-family="Liberation Sans, Arial, Helvetica, sans-serif" fill="#000" stroke="#000" stroke-width="0.3" >electrodeposited Pt catalyst (0.05 mg/cm<tspan font-size="20.77" dy="-15.2425">2</tspan><tspan dy="15.2425">)</tspan></text>
<text x="277.50" y="727.00" font-size="33.5" text-anchor="start" font-family="Liberation Sans, Arial, Helvetica, sans-serif" fill="#000" stroke="#000" stroke-width="0.3" >commercial Pt catalyst (0.2 mg/cm<tspan font-size="20.77" dy="-15.2425">2</tspan><tspan dy="15.2425">)</tspan></text>
<text transform="translate(5.0,680.1) scale(0.93,0.955)" font-size="54.5" font-family="Liberation Sans, Arial, Helvetica, sans-serif" fill="#000">b</text>
</svg></body></html>
